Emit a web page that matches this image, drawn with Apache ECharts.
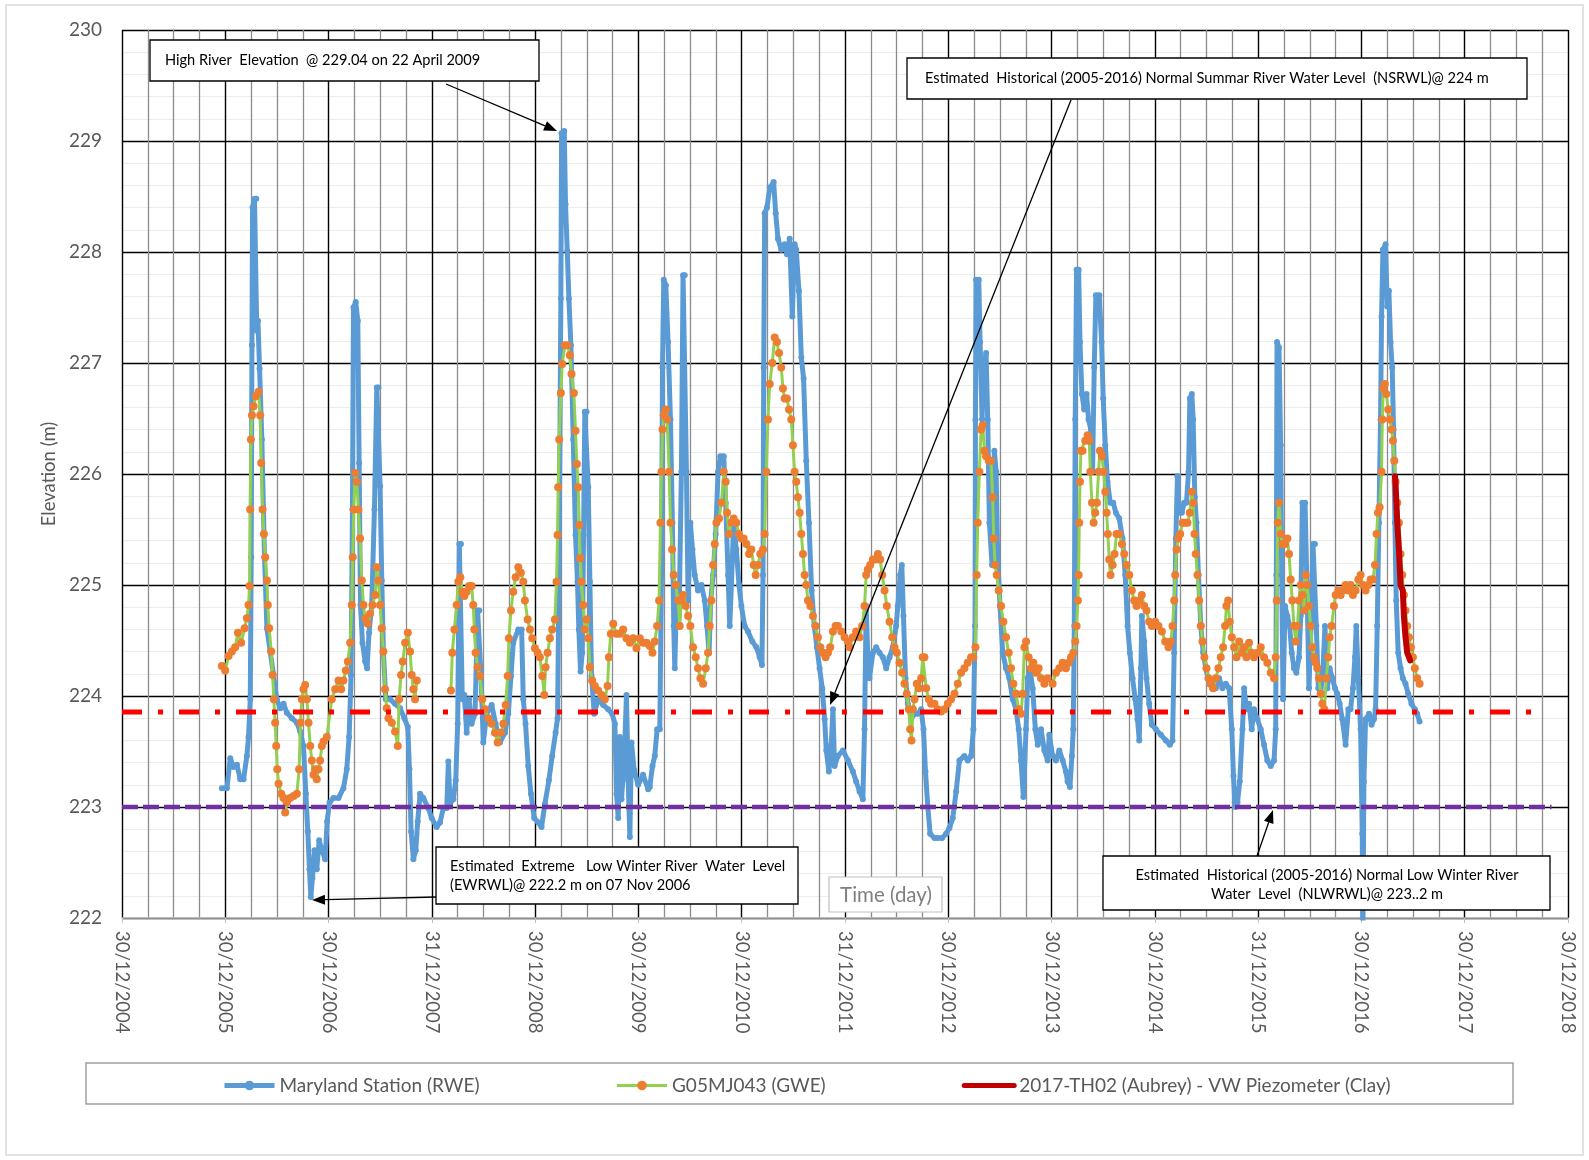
<!DOCTYPE html>
<html><head><meta charset="utf-8">
<script src="https://cdn.jsdelivr.net/npm/echarts@6/dist/echarts.min.js"></script>
<style>html,body{margin:0;padding:0;background:#fff}#c{width:1589px;height:1160px}</style>
</head><body><div id="c"></div>
<script>
// x values are decimal years; tick k (value 2005+k) carries xTickLabels[k]
const xTickLabels = ['30/12/2004','30/12/2005','30/12/2006','31/12/2007','30/12/2008','30/12/2009','30/12/2010','31/12/2011','30/12/2012','30/12/2013','30/12/2014','31/12/2015','30/12/2016','30/12/2017','30/12/2018'];
const yTicks = [222, 230, 1];

// Maryland Station (RWE) [time, elevation]
const riverData = [
[2005.967,223.17],[2006.016,223.17],[2006.048,223.44],[2006.080,223.36],[2006.113,223.38],[2006.145,223.25],[2006.177,223.25],[2006.209,223.46],[2006.225,223.63],[2006.242,223.97],[2006.251,225.25],[2006.258,227.16],[2006.264,228.40],[2006.283,228.48],[2006.300,228.48],[2006.305,227.29],[2006.316,227.38],[2006.332,226.95],[2006.354,226.31],[2006.380,225.25],[2006.403,224.61],[2006.435,224.40],[2006.467,224.19],[2006.499,223.97],[2006.532,223.89],[2006.564,223.93],[2006.596,223.85],[2006.644,223.80],[2006.693,223.76],[2006.725,223.68],[2006.757,223.55],[2006.780,223.12],[2006.799,222.78],[2006.815,222.44],[2006.828,222.19],[2006.844,222.36],[2006.864,222.61],[2006.886,222.44],[2006.909,222.70],[2006.935,222.61],[2006.967,222.53],[2006.986,222.87],
[2007.009,223.04],[2007.047,223.08],[2007.096,223.08],[2007.144,223.17],[2007.176,223.34],[2007.199,223.63],[2007.218,224.19],[2007.231,225.68],[2007.241,227.50],[2007.263,227.55],[2007.283,227.38],[2007.296,226.10],[2007.309,224.82],[2007.328,224.48],[2007.354,224.31],[2007.373,224.25],[2007.392,224.57],[2007.418,224.82],[2007.444,225.68],[2007.467,226.78],[2007.483,226.78],[2007.499,225.89],[2007.515,225.04],[2007.531,224.40],[2007.554,223.97],[2007.596,223.97],[2007.644,223.93],[2007.692,223.89],[2007.734,223.80],[2007.767,223.72],[2007.783,223.34],[2007.799,222.78],[2007.821,222.53],[2007.844,222.61],[2007.863,222.87],[2007.886,223.12],[2007.918,223.08],[2007.966,222.99],[2007.998,222.90],
[2008.047,222.82],[2008.079,222.86],[2008.111,222.99],[2008.144,222.99],[2008.160,223.41],[2008.176,223.03],[2008.208,223.07],[2008.231,223.24],[2008.250,223.75],[2008.266,225.37],[2008.282,225.37],[2008.295,223.97],[2008.314,224.01],[2008.337,223.67],[2008.360,223.97],[2008.385,223.75],[2008.418,223.84],[2008.443,224.77],[2008.459,224.77],[2008.476,224.18],[2008.498,223.58],[2008.531,223.84],[2008.579,223.92],[2008.617,223.75],[2008.659,223.58],[2008.708,223.67],[2008.740,223.84],[2008.766,224.18],[2008.788,224.48],[2008.837,224.60],[2008.869,224.60],[2008.885,223.97],[2008.907,223.75],[2008.933,223.37],[2008.959,223.12],[2008.991,222.90],
[2009.030,222.86],[2009.062,222.82],[2009.095,223.03],[2009.133,223.24],[2009.165,223.46],[2009.198,223.67],[2009.217,223.80],[2009.230,225.03],[2009.240,226.31],[2009.249,227.58],[2009.256,229.07],[2009.282,229.09],[2009.294,228.43],[2009.311,228.01],[2009.327,227.58],[2009.346,227.16],[2009.369,226.31],[2009.391,225.45],[2009.410,225.03],[2009.423,224.60],[2009.440,224.22],[2009.456,224.39],[2009.469,225.45],[2009.481,226.56],[2009.498,226.56],[2009.514,225.88],[2009.530,225.03],[2009.546,224.18],[2009.572,223.84],[2009.610,223.97],[2009.659,223.92],[2009.707,223.88],[2009.746,223.84],[2009.772,223.75],[2009.788,223.12],[2009.804,222.90],[2009.820,223.63],[2009.836,223.07],[2009.862,223.41],[2009.884,224.01],[2009.901,223.24],[2009.917,222.73],[2009.933,223.58],[2009.959,223.33],[2009.997,223.20],
[2010.045,223.29],[2010.094,223.16],[2010.110,223.18],[2010.136,223.37],[2010.158,223.46],[2010.181,223.70],[2010.207,223.70],[2010.223,225.09],[2010.233,226.96],[2010.245,227.75],[2010.265,227.70],[2010.287,227.19],[2010.310,226.49],[2010.329,225.56],[2010.342,224.63],[2010.352,224.25],[2010.368,224.86],[2010.394,224.72],[2010.416,226.02],[2010.432,227.79],[2010.448,227.79],[2010.465,226.02],[2010.481,224.86],[2010.503,225.56],[2010.523,225.32],[2010.545,225.09],[2010.577,224.95],[2010.610,225.00],[2010.642,224.86],[2010.664,224.63],[2010.684,224.39],[2010.700,224.86],[2010.723,225.09],[2010.748,225.46],[2010.771,226.02],[2010.793,226.16],[2010.826,226.16],[2010.845,225.74],[2010.868,225.09],[2010.884,224.63],[2010.900,225.00],[2010.922,225.56],[2010.948,225.32],[2010.974,225.00],[2010.997,224.81],
[2011.029,224.63],[2011.061,224.58],[2011.103,224.49],[2011.142,224.44],[2011.174,224.35],[2011.196,224.28],[2011.206,225.09],[2011.213,226.96],[2011.222,228.35],[2011.245,228.40],[2011.271,228.58],[2011.309,228.63],[2011.329,228.35],[2011.351,228.12],[2011.383,228.02],[2011.416,228.07],[2011.438,227.98],[2011.464,228.12],[2011.490,227.42],[2011.512,228.07],[2011.528,228.02],[2011.554,227.65],[2011.577,227.05],[2011.599,226.86],[2011.625,226.12],[2011.651,225.56],[2011.677,224.95],[2011.703,224.63],[2011.728,224.44],[2011.754,224.25],[2011.780,224.07],[2011.803,223.79],[2011.819,223.51],[2011.844,223.32],[2011.867,223.56],[2011.883,223.88],[2011.899,223.37],[2011.931,223.46],[2011.980,223.51],
[2012.028,223.42],[2012.076,223.32],[2012.108,223.23],[2012.141,223.14],[2012.173,223.07],[2012.189,223.70],[2012.205,224.81],[2012.221,224.35],[2012.237,224.16],[2012.270,224.39],[2012.302,224.44],[2012.334,224.39],[2012.366,224.35],[2012.399,224.25],[2012.431,224.35],[2012.463,224.44],[2012.495,224.63],[2012.511,224.81],[2012.534,225.09],[2012.550,225.18],[2012.566,224.72],[2012.586,224.16],[2012.608,223.93],[2012.640,223.79],[2012.673,223.84],[2012.705,223.84],[2012.737,223.88],[2012.760,223.70],[2012.779,223.32],[2012.802,223.00],[2012.824,222.76],[2012.866,222.72],[2012.898,222.72],[2012.940,222.72],[2012.979,222.76],
[2013.011,222.81],[2013.043,222.90],[2013.076,223.14],[2013.108,223.42],[2013.156,223.46],[2013.188,223.42],[2013.221,223.46],[2013.243,223.70],[2013.259,224.63],[2013.263,226.49],[2013.269,227.75],[2013.295,227.75],[2013.308,227.19],[2013.327,226.49],[2013.343,226.96],[2013.366,227.09],[2013.382,226.49],[2013.398,225.56],[2013.424,225.18],[2013.446,226.21],[2013.463,226.02],[2013.479,225.23],[2013.501,224.81],[2013.527,224.39],[2013.559,224.25],[2013.591,224.16],[2013.624,223.97],[2013.656,223.88],[2013.682,223.70],[2013.704,223.42],[2013.727,223.09],[2013.753,223.70],[2013.769,224.16],[2013.791,224.25],[2013.817,224.07],[2013.843,223.70],[2013.866,223.56],[2013.898,223.70],[2013.930,223.51],[2013.962,223.42],[2013.978,223.65],
[2014.010,223.46],[2014.042,223.42],[2014.075,223.51],[2014.107,223.42],[2014.139,223.32],[2014.155,223.23],[2014.178,223.18],[2014.197,223.46],[2014.210,223.70],[2014.220,224.63],[2014.229,226.49],[2014.242,227.84],[2014.262,227.84],[2014.275,227.19],[2014.294,226.72],[2014.316,226.58],[2014.339,226.72],[2014.358,226.49],[2014.381,226.40],[2014.397,226.02],[2014.413,226.96],[2014.429,227.61],[2014.462,227.61],[2014.484,227.19],[2014.500,226.68],[2014.520,226.26],[2014.542,225.93],[2014.568,225.74],[2014.597,225.74],[2014.623,225.65],[2014.655,225.60],[2014.687,225.42],[2014.713,225.09],[2014.736,224.63],[2014.758,224.39],[2014.784,224.16],[2014.810,223.97],[2014.832,223.79],[2014.849,223.60],[2014.865,224.25],[2014.874,224.72],[2014.897,224.49],[2014.919,224.16],[2014.945,223.93],[2014.971,223.74],
[2015.010,223.70],[2015.058,223.65],[2015.106,223.60],[2015.145,223.56],[2015.171,223.60],[2015.187,224.39],[2015.203,225.42],[2015.219,225.98],[2015.235,225.65],[2015.261,225.65],[2015.284,225.74],[2015.306,225.74],[2015.326,226.02],[2015.339,226.68],[2015.358,226.72],[2015.371,226.49],[2015.387,225.79],[2015.403,225.56],[2015.422,225.09],[2015.445,224.63],[2015.468,224.39],[2015.493,224.25],[2015.525,224.11],[2015.558,224.07],[2015.590,224.07],[2015.622,224.16],[2015.654,224.07],[2015.687,224.11],[2015.719,224.07],[2015.745,223.70],[2015.761,223.28],[2015.777,223.00],[2015.800,223.04],[2015.822,223.23],[2015.848,223.70],[2015.864,224.07],[2015.887,223.88],[2015.912,223.93],[2015.938,223.70],[2015.960,223.88],[2015.993,223.79],
[2016.025,223.70],[2016.057,223.56],[2016.089,223.42],[2016.122,223.37],[2016.154,223.42],[2016.170,223.70],[2016.176,225.09],[2016.183,227.19],[2016.202,227.14],[2016.218,226.26],[2016.228,225.09],[2016.241,223.97],[2016.260,224.81],[2016.283,224.72],[2016.305,224.63],[2016.325,224.39],[2016.347,224.25],[2016.370,224.21],[2016.396,224.35],[2016.412,224.72],[2016.428,225.74],[2016.454,225.74],[2016.476,224.86],[2016.492,224.07],[2016.512,224.63],[2016.531,225.37],[2016.550,225.37],[2016.563,224.63],[2016.583,224.07],[2016.605,224.02],[2016.628,224.25],[2016.647,224.63],[2016.670,224.07],[2016.692,224.25],[2016.718,224.16],[2016.744,224.07],[2016.766,224.02],[2016.789,223.93],[2016.815,223.79],[2016.847,223.56],[2016.873,223.88],[2016.895,223.88],[2016.918,224.07],[2016.937,224.35],[2016.950,224.63],[2016.970,224.16],[2016.992,223.70],
[2017.008,222.76],[2017.014,221.80],[2017.024,223.23],[2017.040,223.79],[2017.073,223.84],[2017.098,223.74],[2017.121,223.79],[2017.137,223.88],[2017.153,224.63],[2017.169,225.56],[2017.185,226.49],[2017.195,227.42],[2017.208,228.02],[2017.234,228.07],[2017.250,227.51],[2017.266,227.65],[2017.282,227.19],[2017.298,226.96],[2017.311,226.40],[2017.324,225.56],[2017.337,224.86],[2017.356,224.39],[2017.379,224.25],[2017.401,224.16],[2017.427,224.11],[2017.453,224.02],[2017.485,223.93],[2017.517,223.88],[2017.540,223.84],[2017.563,223.77]
];

// G05MJ043 (GWE) [time, elevation]; null = gap in record
const wellData = [
[2005.967,224.27],[2005.999,224.23],[2006.032,224.36],[2006.064,224.40],[2006.096,224.44],[2006.122,224.57],[2006.154,224.48],[2006.187,224.61],[2006.209,224.70],[2006.225,224.82],[2006.235,224.99],[2006.241,225.68],[2006.248,226.31],[2006.258,226.53],[2006.274,226.61],[2006.296,226.70],[2006.322,226.74],[2006.338,226.53],[2006.348,226.10],[2006.361,225.68],[2006.374,225.46],[2006.387,225.25],[2006.403,225.04],[2006.412,224.82],[2006.425,224.61],[2006.445,224.40],[2006.458,224.19],[2006.470,223.97],[2006.483,223.76],[2006.493,223.55],[2006.503,223.34],[2006.516,223.21],[2006.541,223.12],[2006.564,223.08],[2006.580,222.95],[2006.596,223.04],[2006.628,223.08],[2006.661,223.10],[2006.693,223.12],[2006.715,223.34],[2006.728,223.76],[2006.741,223.97],[2006.757,224.06],[2006.773,224.10],[2006.790,223.97],[2006.806,223.76],[2006.822,223.55],[2006.838,223.42],[2006.854,223.29],[2006.870,223.34],[2006.886,223.25],[2006.903,223.34],[2006.918,223.42],[2006.935,223.55],[2006.951,223.59],[2006.983,223.63],
[2007.031,223.97],[2007.064,224.06],[2007.096,224.14],[2007.122,224.06],[2007.144,224.14],[2007.167,224.23],[2007.186,224.31],[2007.209,224.48],[2007.225,224.82],[2007.234,225.25],[2007.244,225.68],[2007.257,226.01],[2007.273,225.93],[2007.289,225.68],[2007.305,225.42],[2007.322,225.04],[2007.338,224.82],[2007.354,224.70],[2007.380,224.65],[2007.402,224.74],[2007.425,224.82],[2007.451,224.91],[2007.467,225.16],[2007.483,225.04],[2007.499,224.82],[2007.515,224.61],[2007.531,224.40],[2007.547,224.06],[2007.563,223.89],[2007.580,223.80],[2007.612,223.76],[2007.644,223.68],[2007.670,223.55],[2007.683,223.97],[2007.702,224.19],[2007.718,224.31],[2007.741,224.48],[2007.767,224.57],[2007.789,224.40],[2007.805,224.19],[2007.821,224.06],[2007.837,223.97],[2007.854,224.14],[2008.000,null],
[2008.185,224.05],[2008.198,224.39],[2008.218,224.60],[2008.240,224.82],[2008.256,225.03],[2008.276,225.07],[2008.295,224.94],[2008.314,224.90],[2008.337,224.94],[2008.360,224.99],[2008.385,224.99],[2008.401,224.82],[2008.411,224.60],[2008.424,224.39],[2008.443,224.26],[2008.466,224.18],[2008.488,223.97],[2008.514,223.88],[2008.546,223.80],[2008.579,223.75],[2008.611,223.67],[2008.637,223.58],[2008.669,223.67],[2008.692,223.75],[2008.714,223.92],[2008.734,224.18],[2008.746,224.52],[2008.766,224.77],[2008.788,224.94],[2008.811,225.07],[2008.837,225.16],[2008.862,225.11],[2008.885,225.03],[2008.901,224.86],[2008.927,224.69],[2008.950,224.60],[2008.972,224.52],[2008.998,224.43],
[2009.024,224.39],[2009.046,224.35],[2009.069,224.18],[2009.088,224.01],[2009.101,224.26],[2009.120,224.39],[2009.143,224.52],[2009.165,224.60],[2009.191,224.69],[2009.207,225.03],[2009.217,225.45],[2009.223,225.88],[2009.233,226.31],[2009.249,226.73],[2009.262,226.99],[2009.288,227.16],[2009.314,227.16],[2009.336,227.07],[2009.352,226.90],[2009.375,226.73],[2009.391,226.39],[2009.404,226.09],[2009.417,225.88],[2009.427,225.54],[2009.436,225.24],[2009.449,225.03],[2009.465,224.82],[2009.481,224.60],[2009.498,224.69],[2009.514,224.52],[2009.530,224.26],[2009.552,224.14],[2009.578,224.09],[2009.610,224.05],[2009.643,224.01],[2009.675,223.97],[2009.701,224.09],[2009.714,224.35],[2009.733,224.56],[2009.756,224.65],[2009.788,224.56],[2009.820,224.56],[2009.852,224.60],[2009.884,224.52],[2009.917,224.48],[2009.949,224.52],[2009.981,224.43],
[2010.013,224.52],[2010.045,224.48],[2010.078,224.48],[2010.110,224.45],[2010.136,224.39],[2010.158,224.49],[2010.181,224.63],[2010.200,224.86],[2010.213,225.56],[2010.223,226.02],[2010.233,226.40],[2010.245,226.53],[2010.265,226.58],[2010.278,226.49],[2010.297,226.02],[2010.310,225.56],[2010.326,225.32],[2010.342,225.09],[2010.361,225.00],[2010.384,224.86],[2010.400,224.63],[2010.416,224.86],[2010.432,224.91],[2010.458,224.81],[2010.481,224.72],[2010.503,224.63],[2010.529,224.44],[2010.555,224.35],[2010.577,224.25],[2010.600,224.16],[2010.626,224.11],[2010.652,224.25],[2010.674,224.39],[2010.690,224.63],[2010.706,224.86],[2010.723,225.18],[2010.739,225.37],[2010.755,225.56],[2010.781,225.60],[2010.803,225.74],[2010.826,226.02],[2010.845,225.93],[2010.858,225.65],[2010.877,225.46],[2010.900,225.56],[2010.922,225.60],[2010.948,225.56],[2010.974,225.46],[2010.997,225.42],
[2011.019,225.42],[2011.045,225.37],[2011.071,225.28],[2011.093,225.32],[2011.116,225.18],[2011.135,225.09],[2011.158,225.18],[2011.180,225.28],[2011.206,225.32],[2011.222,225.46],[2011.238,226.02],[2011.254,226.49],[2011.271,226.81],[2011.296,227.00],[2011.319,227.23],[2011.341,227.19],[2011.361,227.09],[2011.383,226.96],[2011.399,226.77],[2011.416,226.68],[2011.438,226.68],[2011.458,226.58],[2011.480,226.49],[2011.496,226.26],[2011.512,226.02],[2011.528,225.93],[2011.544,225.79],[2011.561,225.65],[2011.577,225.46],[2011.593,225.28],[2011.609,225.09],[2011.625,225.00],[2011.641,224.86],[2011.664,224.81],[2011.690,224.72],[2011.715,224.63],[2011.738,224.53],[2011.761,224.44],[2011.786,224.39],[2011.812,224.35],[2011.835,224.39],[2011.857,224.44],[2011.883,224.58],[2011.909,224.63],[2011.931,224.63],[2011.964,224.58],[2011.996,224.53],
[2012.028,224.49],[2012.044,224.44],[2012.076,224.53],[2012.108,224.58],[2012.141,224.53],[2012.166,224.63],[2012.189,224.81],[2012.205,225.09],[2012.221,225.14],[2012.244,225.18],[2012.270,225.23],[2012.295,225.23],[2012.318,225.28],[2012.341,225.23],[2012.360,225.09],[2012.383,224.95],[2012.405,224.81],[2012.431,224.67],[2012.457,224.53],[2012.479,224.44],[2012.502,224.39],[2012.528,224.30],[2012.553,224.21],[2012.576,224.11],[2012.598,224.02],[2012.618,223.88],[2012.631,223.70],[2012.644,223.60],[2012.657,223.88],[2012.673,223.97],[2012.695,224.11],[2012.715,224.07],[2012.737,224.16],[2012.753,224.35],[2012.769,224.35],[2012.786,224.07],[2012.811,223.97],[2012.834,223.93],[2012.866,223.93],[2012.898,223.88],[2012.931,223.86],[2012.963,223.88],[2012.995,223.93],
[2013.027,223.97],[2013.060,224.02],[2013.092,224.11],[2013.124,224.21],[2013.156,224.25],[2013.188,224.30],[2013.221,224.35],[2013.243,224.35],[2013.263,224.44],[2013.275,225.09],[2013.285,225.56],[2013.301,226.02],[2013.317,226.40],[2013.333,226.44],[2013.350,226.21],[2013.366,226.16],[2013.392,226.12],[2013.414,226.12],[2013.430,225.79],[2013.440,225.42],[2013.453,225.18],[2013.469,225.09],[2013.488,224.95],[2013.511,224.81],[2013.533,224.67],[2013.559,224.53],[2013.585,224.39],[2013.607,224.25],[2013.630,224.11],[2013.656,224.02],[2013.682,223.88],[2013.704,223.84],[2013.720,224.02],[2013.737,224.44],[2013.753,224.49],[2013.778,224.35],[2013.801,224.25],[2013.824,224.30],[2013.849,224.21],[2013.875,224.25],[2013.898,224.16],[2013.930,224.11],[2013.962,224.16],
[2014.010,224.11],[2014.042,224.21],[2014.075,224.25],[2014.107,224.30],[2014.139,224.25],[2014.165,224.30],[2014.188,224.35],[2014.210,224.39],[2014.229,224.49],[2014.242,224.63],[2014.255,224.86],[2014.262,225.09],[2014.268,225.56],[2014.275,225.93],[2014.284,226.21],[2014.300,226.21],[2014.326,226.30],[2014.349,226.35],[2014.365,226.30],[2014.375,226.02],[2014.391,225.74],[2014.407,225.56],[2014.423,225.65],[2014.439,225.74],[2014.455,226.02],[2014.468,226.21],[2014.487,226.16],[2014.504,226.02],[2014.520,225.84],[2014.533,225.65],[2014.545,225.46],[2014.558,225.23],[2014.571,225.09],[2014.591,225.18],[2014.610,225.28],[2014.629,225.46],[2014.655,225.46],[2014.681,225.37],[2014.703,225.28],[2014.726,225.18],[2014.752,225.09],[2014.777,224.95],[2014.800,224.86],[2014.823,224.81],[2014.849,224.86],[2014.874,224.91],[2014.897,224.81],[2014.919,224.77],[2014.945,224.67],[2014.971,224.63],
[2015.003,224.67],[2015.035,224.63],[2015.068,224.58],[2015.100,224.49],[2015.132,224.44],[2015.155,224.49],[2015.171,224.63],[2015.187,224.86],[2015.197,225.09],[2015.210,225.32],[2015.226,225.42],[2015.245,225.46],[2015.268,225.56],[2015.293,225.56],[2015.316,225.56],[2015.338,225.65],[2015.358,225.84],[2015.371,225.74],[2015.384,225.46],[2015.396,225.28],[2015.413,225.09],[2015.429,224.86],[2015.445,224.63],[2015.461,224.49],[2015.480,224.35],[2015.500,224.25],[2015.519,224.16],[2015.541,224.11],[2015.564,224.07],[2015.590,224.16],[2015.616,224.25],[2015.638,224.35],[2015.661,224.44],[2015.680,224.63],[2015.693,224.81],[2015.709,224.86],[2015.725,224.67],[2015.745,224.53],[2015.767,224.44],[2015.790,224.35],[2015.816,224.49],[2015.841,224.39],[2015.864,224.44],[2015.887,224.35],[2015.912,224.48],[2015.938,224.39],[2015.960,224.35],[2015.993,224.39],
[2016.025,224.44],[2016.057,224.35],[2016.089,224.30],[2016.122,224.21],[2016.154,224.16],[2016.170,224.35],[2016.180,224.86],[2016.189,225.56],[2016.202,225.74],[2016.218,225.46],[2016.234,225.37],[2016.260,225.37],[2016.283,225.42],[2016.299,225.28],[2016.315,225.05],[2016.331,224.86],[2016.347,224.63],[2016.364,224.49],[2016.380,224.63],[2016.396,224.86],[2016.412,225.00],[2016.428,224.91],[2016.444,224.77],[2016.460,225.09],[2016.476,225.00],[2016.492,224.81],[2016.508,224.63],[2016.524,224.44],[2016.541,224.35],[2016.557,224.30],[2016.573,224.25],[2016.589,224.16],[2016.605,224.02],[2016.621,223.93],[2016.641,223.88],[2016.660,224.16],[2016.679,224.35],[2016.692,224.53],[2016.711,224.63],[2016.734,224.81],[2016.750,224.91],[2016.776,224.95],[2016.799,224.91],[2016.821,224.95],[2016.847,225.00],[2016.873,224.95],[2016.895,225.00],[2016.918,224.91],[2016.944,224.95],[2016.970,225.05],[2016.992,225.09],
[2017.014,225.00],[2017.040,224.95],[2017.066,225.00],[2017.089,225.05],[2017.111,225.05],[2017.131,225.18],[2017.147,225.46],[2017.160,225.65],[2017.176,225.70],[2017.195,226.02],[2017.202,226.49],[2017.211,226.77],[2017.227,226.81],[2017.240,226.72],[2017.260,226.58],[2017.276,226.49],[2017.292,226.40],[2017.305,226.30],[2017.318,226.12],[2017.331,225.93],[2017.347,225.74],[2017.363,225.56],[2017.379,225.28],[2017.395,225.09],[2017.411,224.91],[2017.427,224.77],[2017.443,224.63],[2017.460,224.53],[2017.479,224.44],[2017.498,224.35],[2017.517,224.25],[2017.540,224.16],[2017.563,224.11]
];

// 2017-TH02 (Aubrey) - VW Piezometer (Clay) [time, elevation]
const piezoData = [
[2017.325,225.98],[2017.331,225.90],[2017.347,225.56],[2017.363,225.32],[2017.379,225.00],[2017.401,224.95],[2017.411,224.72],[2017.427,224.53],[2017.443,224.39],[2017.460,224.35],[2017.472,224.32]
];

// reference water levels: [level, x start, x end]
const nsrwlLine = [223.855, 2005, 2018.77];
const nlwrwlLine = [223.0, 2005, 2018.84];

const seriesNames = ['Maryland Station (RWE)', 'G05MJ043 (GWE)', '2017-TH02 (Aubrey) - VW Piezometer (Clay)'];

const FONT = 'Lato, "Open Sans", sans-serif';
const chart = echarts.init(document.getElementById('c'), null, {renderer: 'canvas'});

function arrow(x1, y1, x2, y2) {
  const len = 13, hw = 5;
  const a = Math.atan2(y2 - y1, x2 - x1);
  const bx = x2 - len * Math.cos(a), by = y2 - len * Math.sin(a);
  const px = -Math.sin(a) * hw, py = Math.cos(a) * hw;
  return [
    {type: 'line', z: 120, shape: {x1: x1, y1: y1, x2: bx, y2: by}, style: {stroke: '#000', lineWidth: 1.3}},
    {type: 'polygon', z: 120, shape: {points: [[x2, y2], [bx + px, by + py], [bx - px, by - py]]}, style: {fill: '#000'}}
  ];
}
function box(x, y, w, h, stroke, lw) {
  return {type: 'rect', z: 110, shape: {x: x, y: y, width: w, height: h}, style: {fill: '#fff', stroke: stroke, lineWidth: lw}};
}
function label(text, x, y, size, align, color) {
  return {type: 'text', z: 115, style: {text: text, x: x, y: y, font: size + 'px ' + FONT, fill: color || '#000', textAlign: align || 'left', textVerticalAlign: 'middle'}};
}

const AF = 14.6;
const graphics = [].concat(
  [{type: 'rect', z: 1, silent: true, shape: {x: 6, y: 5, width: 1577, height: 1150}, style: {fill: 'none', stroke: '#d9d9d9', lineWidth: 1.5}}],
  [{type: 'rect', z: 1, silent: true, shape: {x: 86, y: 1063, width: 1427, height: 41}, style: {fill: 'none', stroke: '#a0a0a0', lineWidth: 1.5}}],
  [box(150, 40, 389, 41, '#000', 1.3), label('High River  Elevation  @ 229.04 on 22 April 2009', 165, 60, AF)],
  arrow(446, 84, 557, 131),
  [box(907, 58, 620, 41, '#000', 1.3), label('Estimated  Historical (2005-2016) Normal Summar River Water Level  (NSRWL)@ 224 m', 925, 78, AF)],
  arrow(1071, 100, 830, 705),
  [box(436, 847, 362, 57, '#000', 1.3), label('Estimated  Extreme   Low Winter River  Water  Level', 450, 866, AF), label('(EWRWL)@ 222.2 m on 07 Nov 2006', 450, 885, AF)],
  arrow(436, 897, 312, 900),
  [box(1103, 856, 447, 54, '#000', 1.3), label('Estimated  Historical (2005-2016) Normal Low Winter River', 1327, 875, AF, 'center'), label('Water  Level  (NLWRWL)@ 223..2 m', 1327, 894, AF, 'center')],
  arrow(1257, 856, 1273, 810),
  [box(829, 877, 113, 35, '#bfbfbf', 1.2), label('Time (day)', 886, 895, 20.5, 'center', '#7f7f7f')]
);

const option = {
  animation: false,
  backgroundColor: '#fff',
  textStyle: {fontFamily: FONT},
  grid: {left: 122, right: 21, top: 30, bottom: 242, containLabel: false},
  legend: {
    left: 217, top: 1071, itemWidth: 50, itemHeight: 12, itemGap: 136,
    textStyle: {fontSize: 19, color: '#595959', fontFamily: FONT},
    data: [
      {name: seriesNames[0], lineStyle: {width: 5}},
      {name: seriesNames[1], lineStyle: {width: 3}},
      {name: seriesNames[2], lineStyle: {width: 5}, itemStyle: {opacity: 0}}
    ]
  },
  xAxis: {
    type: 'value', min: 2005, max: 2019, interval: 1,
    axisLine: {show: true, lineStyle: {color: '#bfbfbf', width: 1.5}},
    axisTick: {show: true, length: 5, lineStyle: {color: '#bfbfbf'}},
    axisLabel: {
      rotate: -90, margin: 13, fontSize: 18.5, color: '#595959', fontFamily: FONT,
      showMinLabel: true, showMaxLabel: true,
      formatter: function (v) { return xTickLabels[Math.round(v - 2005)] || ''; }
    },
    splitLine: {show: true, lineStyle: {color: '#000', width: 1.4}},
    minorTick: {show: false, splitNumber: 4},
    minorSplitLine: {show: true, lineStyle: {color: '#8c8c8c', width: 1.3}}
  },
  yAxis: {
    type: 'value', min: yTicks[0], max: yTicks[1], interval: yTicks[2],
    name: 'Elevation (m)', nameLocation: 'middle', nameGap: 62,
    nameTextStyle: {fontSize: 18.5, color: '#595959', fontFamily: FONT},
    axisLine: {show: false}, axisTick: {show: false},
    axisLabel: {fontSize: 19, color: '#595959', margin: 20, fontFamily: FONT},
    splitLine: {show: true, lineStyle: {color: '#000', width: 1.4}},
    minorTick: {show: false, splitNumber: 5},
    minorSplitLine: {show: true, lineStyle: {color: '#ececec', width: 1}}
  },
  series: [
    {
      name: seriesNames[0], type: 'line', data: riverData,
      symbol: 'circle', symbolSize: 6, showSymbol: true, showAllSymbol: true,
      itemStyle: {color: '#5B9BD5'}, lineStyle: {color: '#5B9BD5', width: 5},
      z: 3, clip: true
    },
    {
      name: seriesNames[1], type: 'line', data: wellData, connectNulls: false,
      symbol: 'circle', symbolSize: 8, showSymbol: true, showAllSymbol: true,
      itemStyle: {color: '#ED7D31'}, lineStyle: {color: '#92D050', width: 3},
      z: 4, clip: true
    },
    {
      name: seriesNames[2], type: 'line', data: piezoData,
      symbol: 'none', lineStyle: {color: '#C00000', width: 6, cap: 'round'}, itemStyle: {color: '#C00000'},
      z: 5
    },
    {
      name: 'NSRWL', type: 'line', silent: true, symbol: 'none',
      data: [[nsrwlLine[1], nsrwlLine[0]], [nsrwlLine[2], nsrwlLine[0]]],
      lineStyle: {color: '#FF0000', width: 5, type: [20, 16, 5, 16]}, z: 6
    },
    {
      name: 'NLWRWL', type: 'line', silent: true, symbol: 'none',
      data: [[nlwrwlLine[1], nlwrwlLine[0]], [nlwrwlLine[2], nlwrwlLine[0]]],
      lineStyle: {color: '#7030A0', width: 4.5, type: [16, 5]}, z: 6
    }
  ],
  graphic: graphics
};
chart.setOption(option);
</script>
</body></html>
